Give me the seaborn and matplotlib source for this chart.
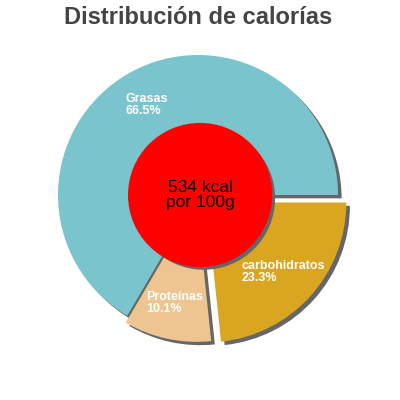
import numpy as np
import matplotlib
matplotlib.use('Agg')
import matplotlib.pyplot as plt
import matplotlib.patheffects as pe
import seaborn as sns

sns.set_theme(style="white")
plt.rcParams['font.family'] = ['Liberation Sans', 'DejaVu Sans']

# Data
labels = ['Grasas', 'Proteínas', 'carbohidratos']
values = [66.5, 10.1, 23.3]
colors = ['#7AC4CD', '#EEC591', '#DAA520']
explode = [0.0, 0.05, 0.08]
total_kcal = 534

fig = plt.figure(figsize=(4, 4), dpi=100)
ax = fig.add_axes([0, 0, 1, 1])

shadow = [pe.SimplePatchShadow(offset=(2.6, -2.4), shadow_rgbFace='#666666', alpha=1.0), pe.Normal()]

wedges, _ = ax.pie(values, colors=colors, explode=explode, startangle=0,
                   counterclock=True, wedgeprops=dict(linewidth=0))
for w in wedges:
    w.set_path_effects(shadow)

# Slice labels
for w, lab, val in zip(wedges, labels, values):
    mid = np.deg2rad((w.theta1 + w.theta2) / 2)
    r = 0.74
    cx, cy = w.center
    ax.text(cx + r * np.cos(mid), cy + r * np.sin(mid), f'{lab}\n{val}%',
            ha='center', va='center', multialignment='left',
            color='white', fontsize=9, fontweight='bold', linespacing=0.95, zorder=5)

# Centre circle
circle = plt.Circle((0.015, 0), 0.51, color='#FF0000', zorder=4)
circle.set_path_effects(shadow)
ax.add_patch(circle)
ax.text(0.015, 0, f'{total_kcal} kcal\npor 100g', ha='center', va='center',
        fontsize=12.5, color='black', linespacing=1.0, zorder=6)

ax.set_xlim(-198 / 140, 202 / 140)
ax.set_ylim(-205 / 140, 195 / 140)
ax.set_aspect('equal')
ax.axis('off')

fig.text(0.495, 0.955, 'Distribución de calorías', ha='center', va='center',
         fontsize=17, fontweight='bold', color='#444444')

fig.savefig('out.png', dpi=100)
